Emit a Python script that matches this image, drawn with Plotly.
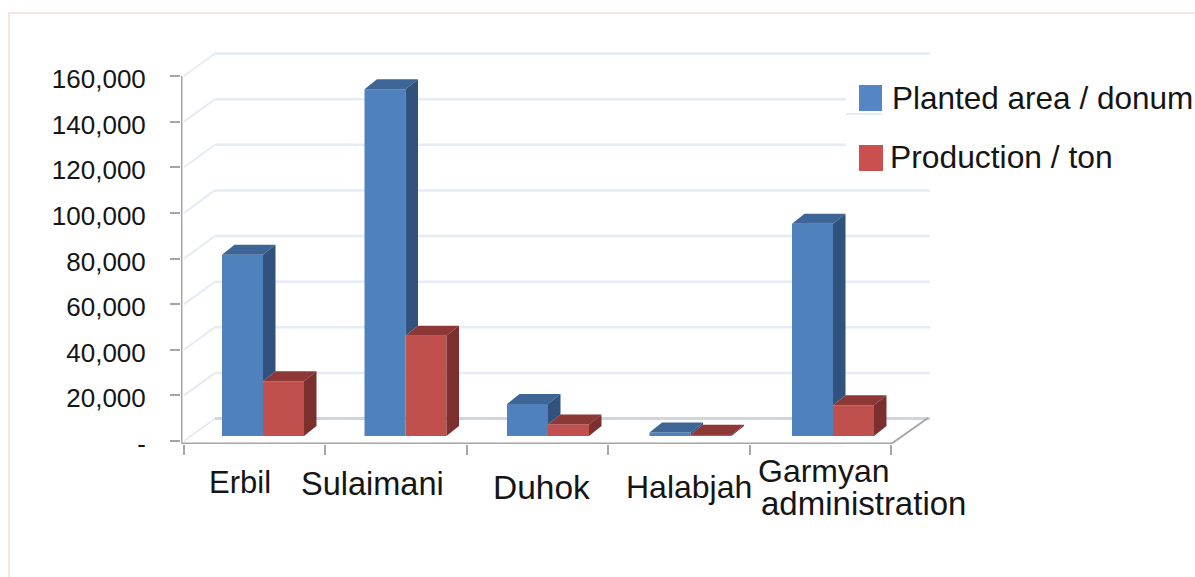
import plotly.graph_objects as go

categories = ["Erbil", "Sulaimani", "Duhok", "Halabjah", "Garmyan<br>administration"]
planted_area = [79500, 152000, 14000, 1500, 93000]
production = [24000, 44000, 5000, 500, 13500]
y_ticks = [0, 20000, 40000, 60000, 80000, 100000, 120000, 140000, 160000]
y_labels = ["-", "20,000", "40,000", "60,000", "80,000", "100,000", "120,000", "140,000", "160,000"]
series_names = ["Planted area / donum", "Production / ton"]

W, H = 1195, 577
L, R, T, B = 181, 935, 45, 444      # plot area in pixels
X0, CAT = 184, 141.4                # pixel of category 0, pixels per category
Y0, PXV = 441, 365 / 160000         # pixel of value 0, pixels per unit
STEP = 142.5 / CAT                  # bar clusters sit slightly wider apart than the ticks

dxpx = lambda p: p / CAT
dypx = lambda p: p / PXV
xv = lambda p: (p - X0) / CAT
yv = lambda p: (Y0 - p) / PXV
px_ = lambda p: (p - L) / (R - L)
py_ = lambda p: (B - p) / (B - T)

BAR_W = 41 / CAT
BASE = dypx(5)
DX, DV = dxpx(12.5), dypx(10)
WX, WV = dxpx(31), dypx(22.5)
N = len(categories)
BACK_R = xv(930)

BLUE = ("#4f81bd", "#3d6595", "#30527d")
RED = ("#c0504d", "#8d3836", "#7b302e")
GRID = "#e6ecf5"
AXIS = "#a6a6a6"
TXT = "#151515"

fig = go.Figure()


def front(vals, off, col, name):
    fig.add_trace(go.Bar(x=[i * STEP + off for i in range(N)], y=vals, base=[BASE] * N, width=BAR_W,
                         marker=dict(color=col, line=dict(width=0)), name=name, showlegend=False))


def poly(xs, ys, col):
    fig.add_trace(go.Scatter(x=xs, y=ys, mode="lines", fill="toself", fillcolor=col,
                             line=dict(width=0, color=col), showlegend=False, hoverinfo="skip"))


OFF_B = (222 - X0) / CAT + BAR_W / 2
OFF_R = OFF_B + BAR_W
front(planted_area, OFF_B, BLUE[0], series_names[0])
front(production, OFF_R, RED[0], series_names[1])

for i in range(N):
    # blue depth faces; the side stops where the red bar in front of it begins
    a, b = i * STEP + OFF_B - BAR_W / 2, i * STEP + OFF_B + BAR_W / 2
    t, r = planted_area[i] + BASE, production[i] + BASE
    poly([a, a + DX, b + DX, b], [t, t + DV, t + DV, t], BLUE[1])
    poly([b, b + DX, b + DX, b], [t, t + DV, r + DV, r], BLUE[2])
    # red depth faces
    a, b = i * STEP + OFF_R - BAR_W / 2, i * STEP + OFF_R + BAR_W / 2
    poly([a, a + DX, b + DX, b], [r, r + DV, r + DV, r], RED[1])
    poly([b, b + DX, b + DX, b], [r, r + DV, BASE + DV, BASE], RED[2])

shapes = []


def seg(x0, y0, x1, y1, col, w, layer="below"):
    shapes.append(dict(type="line", xref="x", yref="y", x0=x0, y0=y0, x1=x1, y1=y1,
                       line=dict(color=col, width=w), layer=layer))


# walls
for v in y_ticks[1:]:
    seg(0, v, WX, v + WV, GRID, 2)
    seg(WX, v + WV, BACK_R, v + WV, GRID, 2.5)
seg(0, 0, WX, WV, "#dde5ef", 1.5)
seg(WX, WV, BACK_R, WV, "#cfd5de", 3)
# floor and axes
seg(N, yv(B), N + dxpx(37), yv(418), AXIS, 2)
seg(xv(L), yv(B), N, yv(B), AXIS, 3)
seg(xv(L), yv(B), xv(L), 160000, AXIS, 3)

# white legend panel that hides the grid behind it
shapes.append(dict(type="rect", xref="paper", yref="paper", x0=px_(846), x1=px_(W), y0=py_(180), y1=py_(62),
                   fillcolor="white", line=dict(width=0), layer="above"))
# sliver of grid left at the panel's edge
shapes.append(dict(type="line", xref="paper", yref="paper", x0=px_(846), x1=px_(882), y0=py_(114), y1=py_(114),
                   line=dict(color=GRID, width=2), layer="above"))
# legend swatches
shapes.append(dict(type="rect", xref="paper", yref="paper", x0=px_(859), x1=px_(882), y0=py_(111), y1=py_(85),
                   fillcolor="#5585c5", line=dict(width=0), layer="above"))
shapes.append(dict(type="rect", xref="paper", yref="paper", x0=px_(859), x1=px_(883), y0=py_(171), y1=py_(145),
                   fillcolor="#c9504e", line=dict(width=0), layer="above"))
# outer frame
shapes.append(dict(type="rect", xref="paper", yref="paper", x0=px_(9), x1=px_(W + 20), y0=py_(H + 20), y1=py_(13),
                   fillcolor="rgba(0,0,0,0)", line=dict(color="#f8e3e3", width=2), layer="below"))

annotations = []


def label(text, x, y, size):
    annotations.append(dict(text=text, xref="paper", yref="paper", x=px_(x), y=py_(y), xanchor="center",
                            yanchor="middle", showarrow=False, font=dict(size=size, color=TXT)))


label_pos = [(240, 482, 31), (372, 484, 32.5), (541, 487, 33.5), (689, 487, 32)]
for name, (x, y, s) in zip(categories[:4], label_pos):
    label(name, x, y, s)
line1, line2 = categories[4].split("<br>")
label(line1, 824, 471, 32)
label(line2, 863, 503, 33)

for name, x, y, s in zip(series_names, (890, 888), (98, 157), (31.5, 31.8)):
    annotations.append(dict(text=name, xref="paper", yref="paper", x=px_(x), y=py_(y), xanchor="left",
                            yanchor="middle", showarrow=False, font=dict(size=s, color=TXT)))

fig.update_layout(
    width=W, height=H, autosize=False,
    margin=dict(l=L, r=W - R, t=T, b=H - B, pad=0),
    paper_bgcolor="white", plot_bgcolor="rgba(0,0,0,0)",
    font=dict(family="Liberation Sans, Arial, sans-serif", color=TXT),
    barmode="overlay", showlegend=False,
    shapes=shapes, annotations=annotations,
    xaxis=dict(range=[xv(L), xv(R)], tickmode="array", tickvals=list(range(N + 1)),
               ticktext=[""] * (N + 1), ticks="outside", ticklen=10, tickwidth=2, tickcolor=AXIS,
               showgrid=False, zeroline=False, showline=False),
    yaxis=dict(range=[yv(B), yv(T)], tickmode="array", tickvals=y_ticks, ticktext=y_labels,
               ticks="outside", ticklen=10, tickwidth=2, tickcolor=AXIS, ticklabelstandoff=19,
               ticklabelshift=3,
               tickfont=dict(size=26, color=TXT), showgrid=False, zeroline=False, showline=False),
)

fig.write_html("out.html", config=dict(displayModeBar=False),
               post_script="document.body.style.margin='0';document.body.style.overflow='hidden';")
